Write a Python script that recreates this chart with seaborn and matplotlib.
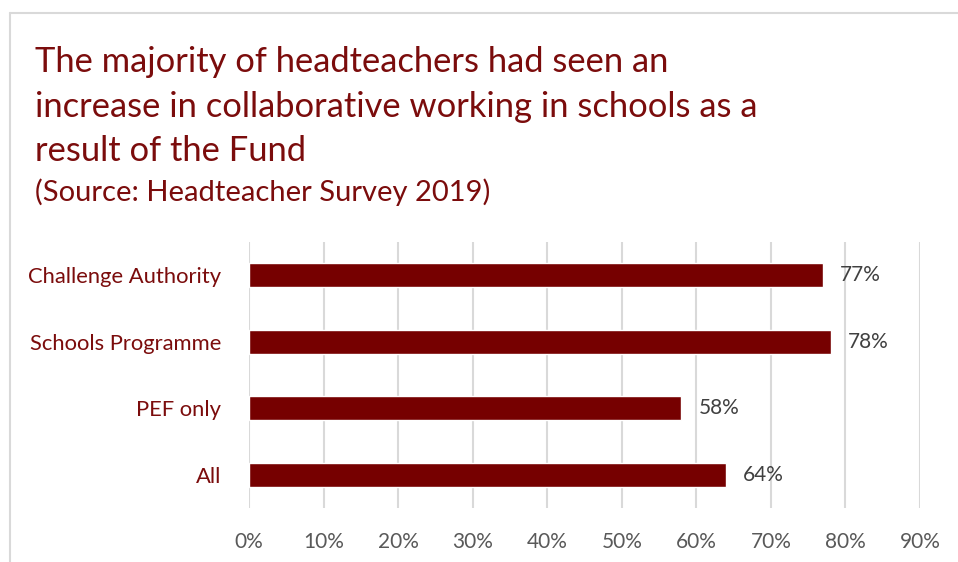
import matplotlib
matplotlib.use("Agg")
import matplotlib.pyplot as plt
import seaborn as sns
import pandas as pd
from matplotlib.ticker import PercentFormatter
from matplotlib.lines import Line2D

categories = ["Challenge Authority", "Schools Programme", "PEF only", "All"]
values = [0.77, 0.78, 0.58, 0.64]
value_labels = ["77%", "78%", "58%", "64%"]

title_text = ("The majority of headteachers had seen an\n"
              "increase in collaborative working in schools as a\n"
              "result of the Fund")
source_text = "(Source: Headteacher Survey 2019)"

BAR = "#760000"
RED_TEXT = "#7B0C0C"
GRID = "#D9D9D9"

sns.set_theme(style="white")
plt.rcParams["font.family"] = ["Lato", "DejaVu Sans"]

df = pd.DataFrame({"group": categories, "share": values})

fig = plt.figure(figsize=(9.58, 5.62), dpi=100)
ax = fig.add_axes([249 / 958, 1 - 508 / 562, (920 - 249) / 958, (508 - 242) / 562])

sns.barplot(data=df, x="share", y="group", color=BAR, width=0.36,
            saturation=1, ax=ax, orient="h")

ax.set_xlim(0, 0.9)
ax.set_ylim(3.5, -0.5)
ax.set_xticks([i / 10 for i in range(10)])
ax.xaxis.set_major_formatter(PercentFormatter(1.0, decimals=0))
ax.grid(axis="x", color=GRID, linewidth=1.5)
ax.set_axisbelow(True)
for s in ax.spines.values():
    s.set_visible(False)
ax.set_xlabel("")
ax.set_ylabel("")
ax.tick_params(axis="x", colors="#595959", labelsize=15, length=0, pad=17)
ax.tick_params(axis="y", colors=RED_TEXT, labelsize=15.8, length=0, pad=20)

for i, (v, lab) in enumerate(zip(values, value_labels)):
    ax.text(v + 0.023, i, lab, va="center", ha="left", fontsize=15, color="#404040")

fig.text(35 / 958, 1 - 46 / 562, title_text, ha="left", va="top",
         fontsize=24.8, color=RED_TEXT, linespacing=1.49)
fig.text(35 / 958, 1 - 178 / 562, source_text, ha="left", va="top",
         fontsize=21, color=RED_TEXT)

# outer frame (top and left edges)
fig.add_artist(Line2D([10 / 958, 1], [1 - 13 / 562, 1 - 13 / 562],
                      transform=fig.transFigure, color="#D9D9D9", linewidth=1.5))
fig.add_artist(Line2D([10 / 958, 10 / 958], [0, 1 - 13 / 562],
                      transform=fig.transFigure, color="#D9D9D9", linewidth=1.5))

fig.savefig("out.png", dpi=100, facecolor="white")
